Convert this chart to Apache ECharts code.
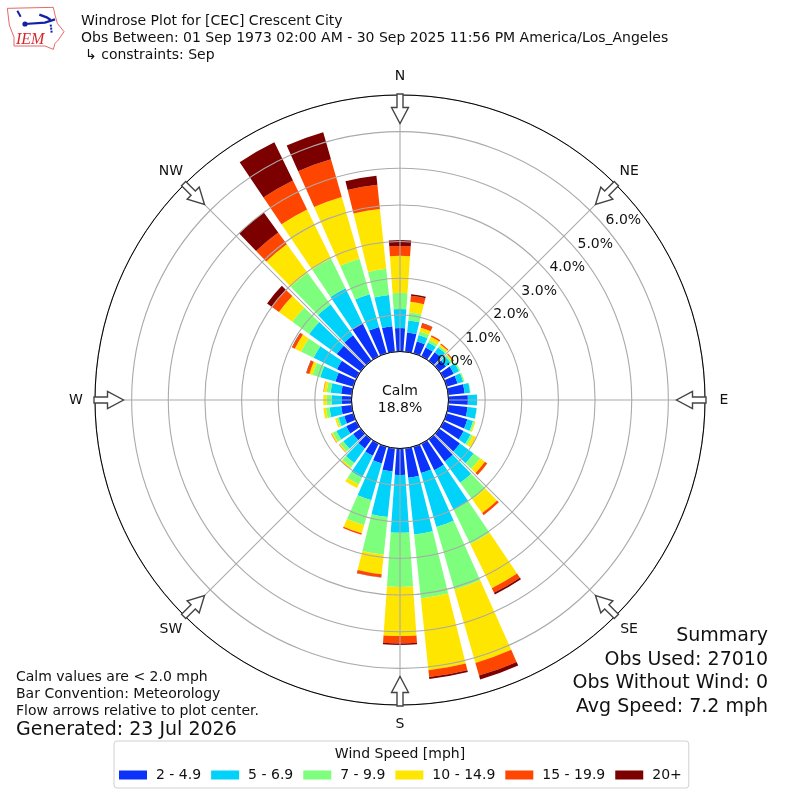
<!DOCTYPE html>
<html><head><meta charset="utf-8">
<style>html,body{margin:0;padding:0;background:#fff}#c{width:800px;height:800px}</style>
<script src="https://cdn.jsdelivr.net/npm/echarts@6/dist/echarts.min.js"></script>
</head><body><div id="c"></div>
<script>
const directions = [0,10,20,30,40,50,60,70,80,90,100,110,120,130,140,150,160,170,180,190,200,210,220,230,240,250,260,270,280,290,300,310,320,330,340,350];
const bin1 = [.64,.53,.34,.27,.29,.23,.31,.31,.45,.53,.53,.59,.61,.70,.75,.81,.75,.81,.72,.64,.48,.37,.31,.26,.31,.26,.29,.26,.29,.51,.59,.81,.86,1.0,.75,.70];
const bin2 = [.52,.33,.18,.15,.16,.16,.16,.16,.15,.25,.25,.16,.21,.46,.72,1.20,1.53,1.56,1.58,1.25,1.04,.67,.49,.33,.30,.16,.32,.28,.29,.43,.71,.93,1.04,1.07,.93,.86];
const bin3 = [.44,.22,.10,.08,.05,.05,.04,.03,.01,0,.01,.04,.07,.22,.56,1.04,1.78,1.75,1.48,1.03,.71,.20,.14,.11,.11,.05,.10,.14,.11,.22,.38,.57,1.07,.90,1.01,.72];
const bin4 = [1.01,.29,.11,.10,.05,.03,0,.01,0,0,0,.03,.11,.16,.46,1.34,2.08,1.97,1.34,.54,.23,.11,.05,.03,.04,.05,.07,.09,.08,.09,.19,.45,.96,1.49,1.75,1.64];
const bin5 = [.27,.17,.12,.04,.03,.03,0,0,0,0,0,0,0,.08,.07,.14,.36,.19,.20,.08,.04,0,.01,.01,.01,0,0,0,.01,.08,.08,.25,.40,.88,1.07,.66];
const bin6 = [.16,.04,.01,0,0,0,0,0,0,0,0,0,0,0,0,.05,.11,.05,.04,.01,0,0,0,0,0,0,0,0,0,.01,.01,.15,.67,1.16,.77,.25];
const binNames = ['2 - 4.9','5 - 6.9','7 - 9.9','10 - 14.9','15 - 19.9','20+'];
const binColors = ['#0a32fa','#00d2fa','#7dff7d','#ffe600','#ff4600','#7d0000'];
const binValues = [bin1,bin2,bin3,bin4,bin5,bin6];
const compass = ['N','NE','E','SE','S','SW','W','NW'];
const rMaxPct = 7;
const font = '"DejaVu Sans"';

const cx=400, cy=400;
function arrow(deg){
  const pts=[[-3,-306],[3,-306],[3,-292.5],[8.5,-292.5],[0,-276.5],[-8.5,-292.5],[-3,-292.5]];
  const a=deg*Math.PI/180, c=Math.cos(a), s=Math.sin(a);
  return {type:'polygon',z:20,shape:{points:pts.map(p=>[cx+p[0]*c-p[1]*s, cy+p[0]*s+p[1]*c])},
    style:{fill:'#fff',stroke:'#444',lineWidth:1.4}};
}
function txt(x,y,t,size,align){
  return {type:'text',z:30,x:x,y:y,style:{text:t,font:size+'px '+font,fill:'#111',align:align||'left',verticalAlign:'middle'}};
}
const scalePts=p=>p.map(q=>[q[0]/3,q[1]/3]);
const graphics=[
  ...compass.map((_,i)=>arrow(i*45)),
  ...compass.map((t,i)=>txt(cx+324*Math.sin(i*Math.PI/4),cy-324*Math.cos(i*Math.PI/4),t,14,'center')),
  txt(400,391,'Calm',14,'center'),
  txt(400,408,'18.8%',14,'center'),
  txt(81,21,'Windrose Plot for [CEC] Crescent City',14),
  txt(81,38,'Obs Between: 01 Sep 1973 02:00 AM - 30 Sep 2025 11:56 PM America/Los_Angeles',14),
  txt(85,55,'\u21b3 constraints: Sep',14),
  txt(768,636,'Summary',19,'right'),
  txt(768,660,'Obs Used: 27010',19,'right'),
  txt(768,683,'Obs Without Wind: 0',19,'right'),
  txt(768,707,'Avg Speed: 7.2 mph',19,'right'),
  txt(16,677,'Calm values are < 2.0 mph',14),
  txt(16,694,'Bar Convention: Meteorology',14),
  txt(16,711,'Flow arrows relative to plot center.',14),
  txt(16,730,'Generated: 23 Jul 2026',19),
  txt(400,754,'Wind Speed [mph]',14,'center'),
  // IEM logo
  {type:'polygon',z:20,shape:{points:scalePts([[22,25],[160,22],[165,45],[172,70],[192,95],[175,120],[165,130],[160,148],[135,138],[42,138],[42,112],[28,75]])},
    style:{fill:'#fff',stroke:'#e8686c',lineWidth:1}},
  {type:'polyline',z:21,shape:{points:scalePts([[52,32],[62,50]])},style:{stroke:'#1420a8',lineWidth:2,fill:null}},
  {type:'polyline',z:21,shape:{points:scalePts([[74,72],[135,68],[165,58]])},style:{stroke:'#1420a8',lineWidth:2.2,fill:null}},
  {type:'polyline',z:21,shape:{points:scalePts([[118,44],[140,52],[152,60]])},style:{stroke:'#1420a8',lineWidth:2.5,fill:null}},
  {type:'polyline',z:21,shape:{points:scalePts([[152,74],[155,98]])},style:{stroke:'#1420a8',lineWidth:2,lineDash:[2,1],fill:null}},
  {type:'circle',z:21,shape:{cx:25,cy:24,r:2.6},style:{fill:'#1420a8'}},
  {type:'text',z:21,x:16,y:32,style:{text:'IEM',font:'italic 16px "Liberation Serif"',fill:'#d8262c'}}
];

const series = binValues.map((vals,i)=>({
  name:binNames[i], type:'bar', coordinateSystem:'polar', polarIndex:0, stack:'wind',
  barWidth:'80%', itemStyle:{color:binColors[i]}, z:2,
  data:vals.map((v,k)=>[v,directions[k]])
}));

const chart=echarts.init(document.getElementById('c'));
chart.setOption({
  animation:false, backgroundColor:'#fff',
  polar:[
    {center:[cx,cy],radius:[48.5,305]},
    {center:[cx,cy],radius:[48.5,305]}
  ],
  angleAxis:[
    {polarIndex:0,type:'value',min:0,max:360,interval:45,startAngle:90,clockwise:true,z:5,
      axisLine:{show:true,lineStyle:{color:'#000',width:1}},axisTick:{show:false},axisLabel:{show:false},
      splitLine:{show:true,lineStyle:{color:'#aaaaaa',width:1.1}}},
    {polarIndex:1,type:'value',min:0,max:360,startAngle:40,show:false}
  ],
  radiusAxis:[
    {polarIndex:0,type:'value',min:0,max:rMaxPct,interval:1,z:5,
      axisLine:{show:false},axisTick:{show:false},axisLabel:{show:false},
      splitLine:{show:true,lineStyle:{color:'#aaaaaa',width:1.1}}},
    {polarIndex:1,type:'value',min:0,max:rMaxPct,interval:1,z:6,
      axisLine:{show:false},axisTick:{show:false},splitLine:{show:false},
      axisLabel:{show:true,margin:0,color:'#111',fontFamily:font,fontSize:14,align:'left',verticalAlign:'bottom',
        showMaxLabel:false,formatter:v=>v>=rMaxPct?'':v.toFixed(1)+'%'}}
  ],
  legend:{data:binNames,left:114,top:741,orient:'horizontal',icon:'rect',itemWidth:28,itemHeight:9,itemGap:10,
    padding:[27,7,6,5],backgroundColor:'#fff',borderColor:'#d0d0d0',borderWidth:1,borderRadius:3,
    selectedMode:false,textStyle:{fontFamily:font,fontSize:14,color:'#111',padding:[0,0,0,4]}},
  graphic:graphics,
  series:series
});
</script></body></html>
